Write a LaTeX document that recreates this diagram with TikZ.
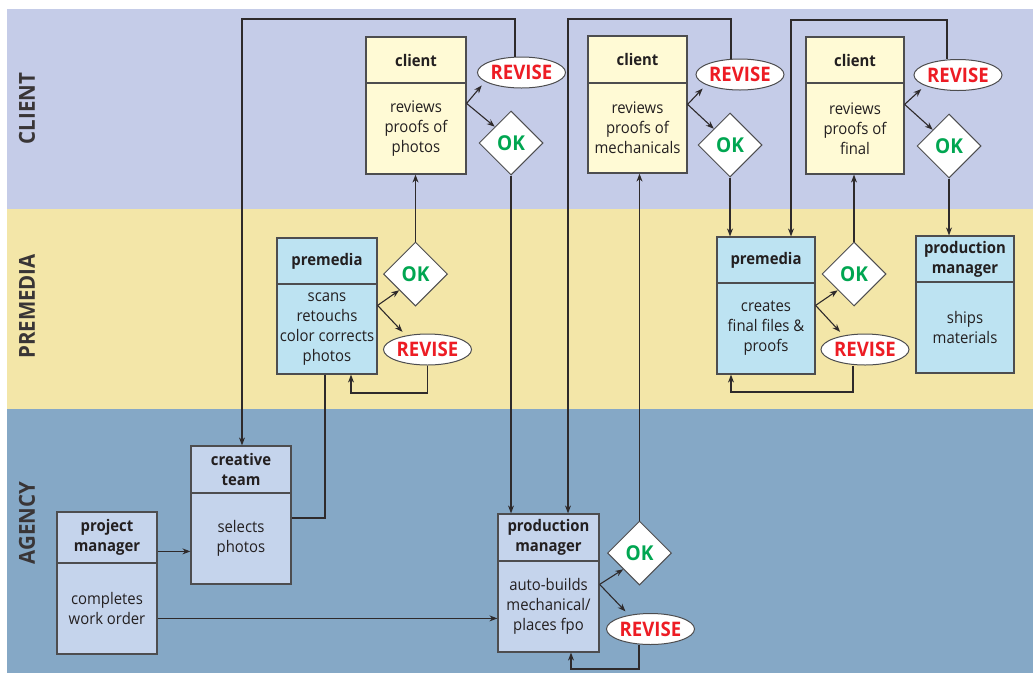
\documentclass[tikz,border=0pt]{standalone}
\usepackage{fontspec}
\setmainfont{Open Sans}[FakeStretch=0.93]
\usetikzlibrary{shapes.geometric,arrows.meta,calc}
\definecolor{bandC}{HTML}{C5CCE8}
\definecolor{bandP}{HTML}{F3E6A8}
\definecolor{bandA}{HTML}{85A8C6}
\definecolor{fillC}{HTML}{FFFAD5}
\definecolor{fillP}{HTML}{BDE3F2}
\definecolor{fillA}{HTML}{C5D4EC}
\definecolor{revred}{HTML}{ED1C24}
\definecolor{okgreen}{HTML}{00A651}
\definecolor{ink}{HTML}{231F20}
\definecolor{edge}{HTML}{4D4D4F}
\newcommand{\flowbox}[9]{%
  \node[hd,fill=#2,minimum width={#4-#3},minimum height={#6-#5}] (#1h) at ({(#3+#4)/2},{(#5+#6)/2}) {#8};
  \node[bd,fill=#2,minimum width={#4-#3},minimum height={#7-#6}] (#1b) at ({(#3+#4)/2},{(#6+#7)/2}) {#9};
}
\begin{document}
\begin{tikzpicture}[x=1pt,y=-1pt,
  bd/.style={draw=edge,line width=1.2pt,inner sep=0pt,align=center,text=ink,font=\fontsize{16}{20}\selectfont},
  hd/.style={bd,font=\bfseries\fontsize{16}{20}\selectfont},
  okd/.style={diamond,draw=edge,line width=1pt,fill=white,minimum width=64pt,minimum height=64pt,inner sep=0pt,text=okgreen,font=\bfseries\fontsize{20.5}{20}\selectfont},
  rev/.style={ellipse,draw=edge,line width=1pt,fill=white,minimum width=88pt,minimum height=31pt,inner sep=0pt,text=revred,font=\bfseries\fontsize{20}{20}\selectfont},
  band/.style={rotate=90,text=ink!90,font=\bfseries\fontsize{22}{24}\selectfont},
  conn/.style={draw=ink!95,line width=1.1pt},
  arr/.style={conn,-{Stealth[length=8pt,width=6pt]}}
]
\useasboundingbox (0,0) rectangle (1033,673);
\fill[white] (0,0) rectangle (1033,673);
\fill[bandC] (7,9) rectangle (1033,209);
\fill[bandP] (7,209) rectangle (1033,409);
\fill[bandA] (7,409) rectangle (1033,673);

\node[band] (lc) at (27,108.5) {CLIENT};
\node[band] (lp) at (27,306.5) {PREMEDIA};
\node[band] (la) at (27,523) {AGENCY};

% boxes
\flowbox{c1}{fillC}{366}{466}{37}{83}{174}{client}{reviews\\proofs of\\photos}
\flowbox{c2}{fillC}{588}{687}{36}{83}{173}{client}{reviews\\proofs of\\mechanicals}
\flowbox{c3}{fillC}{806}{904}{37}{83}{174}{client}{reviews\\proofs of\\final}
\flowbox{p1}{fillP}{277}{377}{238}{284}{374}{premedia}{scans\\retouchs\\color corrects\\photos}
\flowbox{p2}{fillP}{717}{815}{237}{283}{374}{premedia}{creates\\final files \&\\proofs}
\flowbox{pmt}{fillP}{916}{1014}{236}{282}{373}{production\\manager}{ships\\materials}
\flowbox{ct}{fillA}{191}{291}{446}{493}{584}{creative\\team}{selects\\photos}
\flowbox{pj}{fillA}{57}{157}{512}{563}{654}{project\\manager}{completes\\work order}
\flowbox{pm}{fillA}{498}{599}{514}{561}{652}{production\\manager}{auto-builds\\mechanical/\\places fpo}

% decisions
\node[okd] (ok1) at (511,143) {OK};
\node[okd] (ok2) at (730,145) {OK};
\node[okd] (ok3) at (949,146) {OK};
\node[okd] (okp1) at (415.5,274) {OK};
\node[okd] (okp2) at (854,274) {OK};
\node[okd] (oka) at (639.5,553) {OK};

\node[rev] (r1) at (521.5,72.5) {REVISE};
\node[rev] (r2) at (740,74.5) {REVISE};
\node[rev] (r3) at (958,75) {REVISE};
\node[rev] (rp1) at (427.5,349.5) {REVISE};
\node[rev] (rp2) at (865,349.5) {REVISE};
\node[rev] (ra) at (650.5,629) {REVISE};

% branch points
\coordinate (c1o) at ([yshift=-21pt]c1b.north east);
\coordinate (c2o) at ([yshift=-22pt]c2b.north east);
\coordinate (c3o) at ([yshift=-22pt]c3b.north east);
\coordinate (p1o) at ([yshift=-22pt]p1b.north east);
\coordinate (p2o) at ([yshift=-23pt]p2b.north east);
\coordinate (pmo) at ([yshift=-24pt]pmb.north east);
\coordinate (pjo1) at ([yshift=-40pt]pjh.north east);
\coordinate (pjo2) at ([yshift=-56pt]pjb.north east);
\coordinate (t1) at (242,19);
\coordinate (t2) at (568,19);
\coordinate (t3) at (791,20);
\coordinate (b0) at (325,518);
\coordinate (b1) at (351,393);
\coordinate (b2) at (731,392);
\coordinate (b3) at (571,669);

% client branches
\draw[arr,shorten >=5pt] (c1o) -- (r1.194);
\draw[arr] (c1o) -- (ok1.north west);
\draw[arr,shorten >=5pt] (c2o) -- (r2.197);
\draw[arr] (c2o) -- (ok2.north west);
\draw[arr,shorten >=5pt] (c3o) -- (r3.198);
\draw[arr] (c3o) -- (ok3.north west);

% premedia branches
\draw[arr] (p1o) -- (okp1.south west);
\draw[arr,shorten >=5pt] (p1o) -- (rp1.147);
\draw[arr] (p2o) -- (okp2.south west);
\draw[arr,shorten >=5pt] (p2o) -- (rp2.147);

% agency branches
\draw[arr] (pmo) -- (oka.south west);
\draw[arr,shorten >=5pt] (pmo) -- (ra.147);

% OK flows
\draw[arr] (ok1.south) -- (ok1.south |- pmh.north);
\draw[arr] (ok2.south) -- (ok2.south |- p2h.north);
\draw[arr] (ok3.south) -- (ok3.south |- pmth.north);
\draw[arr] (okp1.north) -- (okp1.north |- c1b.south);
\draw[arr] (okp2.north) -- (okp2.north |- c3b.south);
\draw[arr] (oka.north) -- (oka.north |- c2b.south);

% REVISE loops
\draw[arr] ([xshift=-6.5pt]r1.north) |- (t1) -- (t1 |- cth.north);
\draw[arr] ([xshift=-9pt]r2.north) |- (t2) -- (t2 |- pmh.north);
\draw[arr] ([xshift=-11pt]r3.north) |- (t3) -- (t3 |- p2h.north);
\draw[arr] (rp1.south) |- (b1) -- (b1 |- p1b.south);
\draw[arr] ([xshift=-12pt]rp2.south) |- (b2) -- (b2 |- p2b.south);
\draw[arr] ([xshift=-11.5pt]ra.south) |- (b3) -- (b3 |- pmb.south);

% agency flows
\draw[conn] (b0 |- p1b.south) -- (b0) -- (b0 -| ctb.east);
\draw[arr] (pjo1) -- (pjo1 -| ctb.west);
\draw[arr] (pjo2) -- (pjo2 -| pmb.west);
\end{tikzpicture}
\end{document}
